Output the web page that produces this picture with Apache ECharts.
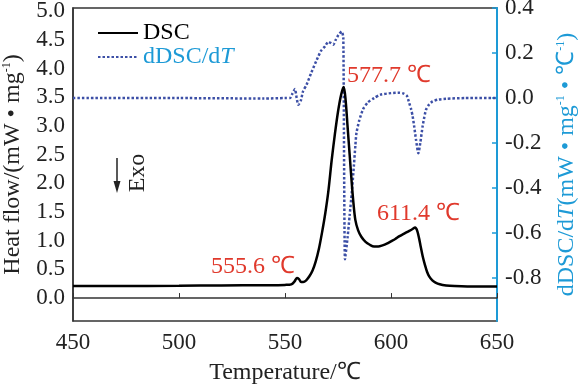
<!DOCTYPE html>
<html><head><meta charset="utf-8">
<script src="https://cdn.jsdelivr.net/npm/echarts@6/dist/echarts.min.js"></script>
<style>html,body{margin:0;padding:0;background:#fff}#c{width:581px;height:385px}</style>
</head><body><div id="c"></div>
<script>
// ---- data ----
const dscT = [450,470,500,520,540,550,553,554.5,555.6,556.6,557.6,558.6,560,561.5,563,564.5,566,567.5,569,570.5,572,573.5,575,576.5,577.7,578.6,579.5,580.5,581.5,582.3,583.2,584.5,586,588,590,592,594,596,598,600,602,604,606,608,610,611.4,612.3,613.2,614,615,616,617,618,619.5,621,623,626,630,640,650];
const dscV = [0.21,0.21,0.215,0.22,0.225,0.23,0.24,0.29,0.35,0.33,0.28,0.28,0.31,0.38,0.48,0.64,0.86,1.15,1.48,1.88,2.4,2.85,3.25,3.55,3.68,3.45,3.0,2.5,2.0,1.65,1.36,1.18,1.07,0.98,0.93,0.9,0.9,0.92,0.95,0.99,1.03,1.08,1.12,1.16,1.2,1.23,1.18,1.05,0.9,0.72,0.58,0.46,0.38,0.31,0.27,0.24,0.22,0.21,0.2,0.2];
const ddT = [450,500,540,550,552.4,553.5,554.7,555.5,556.3,557.5,558.5,560.2,562.5,565,567,568.9,570.4,571.5,572.8,574,575.2,576.7,577.5,578.3,579.5,580.5,581.5,582.5,583.2,583.7,585,586.8,589,592,595,600,604,606,607.5,608.6,609.5,610.2,611,611.8,612.9,613.8,614.9,615.7,616.5,618,619.6,622,626,635,650];
const ddV = [0,0,-0.002,0,0,0.02,0.04,0.0,-0.03,-0.01,0.03,0.06,0.115,0.17,0.21,0.23,0.25,0.245,0.237,0.26,0.28,0.296,0.27,-0.716,-0.62,-0.52,-0.42,-0.3,-0.21,-0.155,-0.1,-0.05,-0.02,0.0,0.015,0.022,0.024,0.02,0.01,-0.022,-0.05,-0.08,-0.13,-0.185,-0.245,-0.2,-0.126,-0.085,-0.052,-0.028,-0.015,-0.007,-0.003,0,0];
const leftTicks = [0,0.5,1,1.5,2,2.5,3,3.5,4,4.5,5];
const rightTicks = [-0.8,-0.6,-0.4,-0.2,0,0.2,0.4];
const peakLabels = ['555.6 ℃','577.7 ℃','611.4 ℃'];

const FONT = 'Liberation Serif';
const BLUE = '#1d9ad6', DOT = '#3c4fa6', RED = '#e0392c';
const chart = echarts.init(document.getElementById('c'));
chart.setOption({
  animation: false,
  textStyle: {fontFamily: FONT},
  grid: {left: 73, right: 84, top: 8, bottom: 64, show: true, borderColor: '#333', borderWidth: 1.5,
         containLabel: false, outerBoundsMode: 'none'},
  legend: {
    orient: 'vertical', left: 92, top: 16, itemWidth: 40, itemHeight: 14, itemGap: 0,
    itemStyle: {opacity: 0},
    formatter: n => n === 'dDSC/dT' ? '{a|dDSC/d}{i|T}' : '{k|DSC}',
    data: [{name: 'DSC'}, {name: 'dDSC/dT'}],
    textStyle: {fontFamily: FONT, fontSize: 24, rich: {
      a: {color: BLUE, fontSize: 24, fontFamily: FONT},
      i: {color: BLUE, fontSize: 24, fontFamily: FONT, fontStyle: 'italic'},
      k: {color: '#000', fontSize: 24, fontFamily: FONT}}}
  },
  xAxis: {
    type: 'value', min: 450, max: 650, interval: 50,
    name: 'Temperature/℃', nameLocation: 'middle', nameGap: 40,
    nameTextStyle: {fontFamily: FONT, fontSize: 24, color: '#222'},
    axisLine: {show: true, lineStyle: {color: '#333', width: 1.5}},
    axisTick: {show: true, inside: true, length: 5, lineStyle: {color: '#333'}},
    axisLabel: {fontFamily: FONT, fontSize: 23, color: '#222', margin: 10},
    splitLine: {show: false}
  },
  yAxis: [{
    type: 'value', min: -0.4, max: 5.06,
    name: '{t|Heat flow/(mW • mg}{s|-1}{t|)}', nameLocation: 'middle', nameGap: 48, nameRotate: 90,
    nameTextStyle: {rich: {t: {fontFamily: FONT, fontSize: 24, color: '#222', lineHeight: 24},
                           s: {fontFamily: FONT, fontSize: 12, color: '#222', verticalAlign: 'top', lineHeight: 24}}},
    axisLine: {show: true, lineStyle: {color: '#333', width: 1.5}},
    axisTick: {show: false},
    axisLabel: {fontFamily: FONT, fontSize: 23, color: '#222', margin: 8,
      customValues: leftTicks, formatter: v => v.toFixed(1)},
    splitLine: {show: false}
  }, {
    type: 'value', min: -0.99, max: 0.4, position: 'right',
    name: '{t|dDSC/d}{i|T}{t|(mW • mg}{s|-1}{t| • ℃}{s|-1}{t|)}', nameLocation: 'middle', nameGap: 58, nameRotate: 90,
    nameTextStyle: {rich: {t: {fontFamily: FONT, fontSize: 24, color: BLUE, lineHeight: 24},
                           i: {fontFamily: FONT, fontSize: 24, color: BLUE, lineHeight: 24, fontStyle: 'italic'},
                           s: {fontFamily: FONT, fontSize: 12, color: BLUE, verticalAlign: 'top', lineHeight: 24}}},
    axisLine: {show: true, onZero: false, lineStyle: {color: BLUE, width: 2}},
    axisTick: {show: true, inside: true, length: 5, lineStyle: {color: BLUE, width: 1.5}, customValues: rightTicks},
    axisLabel: {fontFamily: FONT, fontSize: 23, color: '#222', margin: 8,
      customValues: rightTicks, formatter: v => v.toFixed(1)},
    splitLine: {show: false}
  }],
  series: [{
    name: 'DSC', type: 'line', yAxisIndex: 0, symbol: 'none', smooth: 0.3,
    lineStyle: {color: '#000', width: 2.5}, itemStyle: {color: '#000'},
    data: dscT.map((t, i) => [t, dscV[i]]), z: 3
  }, {
    name: 'dDSC/dT', type: 'line', yAxisIndex: 1, symbol: 'none', smooth: 0.2,
    lineStyle: {color: DOT, width: 2.5, type: [2.5, 2]}, itemStyle: {color: DOT},
    data: ddT.map((t, i) => [t, ddV[i]]), z: 2
  }],
  graphic: [
    {type: 'text', left: 211, top: 255, style: {text: peakLabels[0], font: '24px "Liberation Serif"', fill: RED}},
    {type: 'text', left: 347, top: 64, style: {text: peakLabels[1], font: '24px "Liberation Serif"', fill: RED}},
    {type: 'text', left: 377, top: 202, style: {text: peakLabels[2], font: '24px "Liberation Serif"', fill: RED}},
    {type: 'line', shape: {x1: 117, y1: 158, x2: 117, y2: 184}, style: {stroke: '#222', lineWidth: 1.5}},
    {type: 'polygon', shape: {points: [[117, 193], [113.5, 181], [120.5, 181]]}, style: {fill: '#222'}},
    {type: 'text', x: 138, y: 173, rotation: Math.PI / 2,
      style: {text: 'Exo', font: '24px "Liberation Serif"', fill: '#222', align: 'center', verticalAlign: 'middle'}}
  ]
});
</script></body></html>
